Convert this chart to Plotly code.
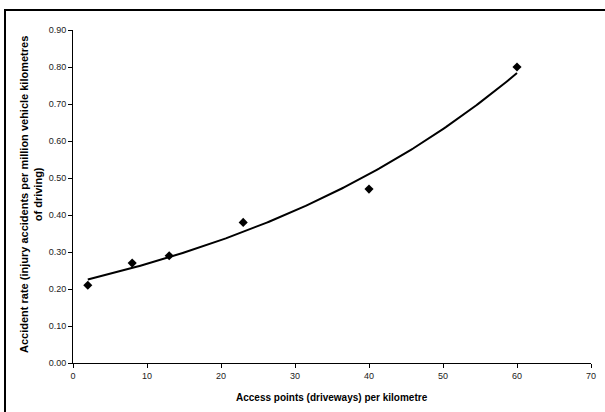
import numpy as np
import plotly.graph_objects as go

access_points = [2, 8, 13, 23, 40, 60]
accident_rate = [0.21, 0.27, 0.29, 0.38, 0.47, 0.80]
x_ticks = [0, 10, 20, 30, 40, 50, 60, 70]
y_ticks = [0.0, 0.1, 0.2, 0.3, 0.4, 0.5, 0.6, 0.7, 0.8, 0.9]

# Exponential trendline (least squares on log values), as in the original
b, ln_a = np.polyfit(access_points, np.log(accident_rate), 1)
fit_x = np.linspace(min(access_points), max(access_points), 200)
fit_y = np.exp(ln_a) * np.exp(b * fit_x)

W, H = 605, 412
L, R, T, B = 73, 14, 30, 49
pw, ph = W - L - R, H - T - B

def px_x(p):
    return (p - L) / pw

def px_y(p):
    return (H - B - p) / ph

font = "Liberation Sans, Arial, sans-serif"

fig = go.Figure()
fig.add_trace(go.Scatter(x=fit_x, y=fit_y, mode="lines",
                         line=dict(color="black", width=2), hoverinfo="skip"))
fig.add_trace(go.Scatter(x=access_points, y=accident_rate, mode="markers",
                         marker=dict(symbol="diamond", size=7, color="black")))

fig.update_layout(
    width=W, height=H,
    margin=dict(l=L, r=R, t=T, b=B, autoexpand=False),
    paper_bgcolor="white", plot_bgcolor="white",
    showlegend=False,
    font=dict(family=font, size=9, color="black"),
    xaxis=dict(range=[0, 70], tickvals=x_ticks, showgrid=False, zeroline=False,
               showline=True, linecolor="black", linewidth=1,
               ticks="outside", ticklen=4, tickcolor="black",
               tickfont=dict(size=9, color="#222")),
    yaxis=dict(range=[0, 0.9], tickvals=y_ticks, tickformat=".2f", showgrid=False,
               zeroline=False, showline=True, linecolor="black", linewidth=1,
               ticks="outside", ticklen=4, tickcolor="black",
               tickfont=dict(size=9, color="#222")),
    annotations=[
        dict(text="<b>Access points (driveways) per kilometre</b>",
             xref="paper", yref="paper", x=px_x(332), y=px_y(397),
             xanchor="center", yanchor="middle", showarrow=False,
             font=dict(size=10, family=font)),
        dict(text="<b>Accident rate (injury accidents per million vehicle kilometres<br>of driving)</b>",
             xref="paper", yref="paper", x=px_x(31), y=px_y(195),
             xanchor="center", yanchor="middle", showarrow=False, textangle=-90,
             font=dict(size=11, family=font)),
    ],
    shapes=[
        dict(type="line", xref="paper", yref="paper",
             x0=px_x(4), y0=px_y(10), x1=px_x(605), y1=px_y(10),
             line=dict(color="black", width=2), layer="above"),
        dict(type="line", xref="paper", yref="paper",
             x0=px_x(5), y0=px_y(9), x1=px_x(5), y1=px_y(412),
             line=dict(color="black", width=2), layer="above"),
    ],
)

fig.write_html("out.html")
